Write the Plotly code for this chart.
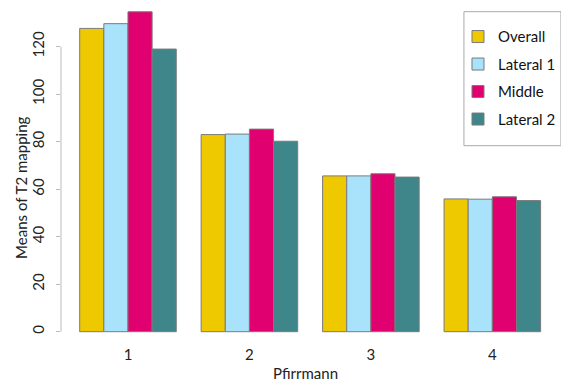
import plotly.graph_objects as go

categories = ["1", "2", "3", "4"]
series_names = ["Overall", "Lateral 1", "Middle", "Lateral 2"]
overall = [127.7, 83.0, 65.6, 55.9]
lateral1 = [129.7, 83.2, 65.6, 55.8]
middle = [134.7, 85.3, 66.5, 56.8]
lateral2 = [119.0, 80.2, 65.1, 55.2]
colors = ["#EEC900", "#A8E2FB", "#E0006F", "#3E8689"]
y_ticks = [0, 20, 40, 60, 80, 100, 120]

FONT = "Lato"
fig = go.Figure()
for i, (name, vals) in enumerate(zip(series_names, [overall, lateral1, middle, lateral2])):
    fig.add_trace(go.Bar(
        x=categories, y=vals, name=name, legendgroup=name,
        marker=dict(color=colors[i], line=dict(color="#7a7a7a", width=1)),
    ))

fig.update_layout(
    width=561, height=381,
    margin=dict(l=61, r=0, t=0, b=37),
    plot_bgcolor="white", paper_bgcolor="white",
    barmode="group", bargap=0.205, bargroupgap=0,
    font=dict(family=FONT, size=15, color="#222"),
    xaxis=dict(type="category", range=[-0.5514, 3.5242], showline=False,
               showgrid=False, zeroline=False, ticks="",
               tickfont=dict(size=15)),
    yaxis=dict(range=[-5.18, 139.66], tickvals=y_ticks, tickangle=-90,
               showline=False, showgrid=False, zeroline=False,
               ticks="outside", ticklen=4, tickcolor="#bbbbbb",
               ticklabelstandoff=6, tickfont=dict(size=15)),
    legend=dict(x=0.802, y=0.941, xanchor="left", yanchor="top",
                bgcolor="rgba(0,0,0,0)", borderwidth=0,
                tracegroupgap=5, traceorder="grouped",
                font=dict(size=15, color="#111")),
    showlegend=True,
)

fig.add_shape(type="line", xref="paper", yref="y", x0=0, x1=0,
              y0=y_ticks[0], y1=y_ticks[-1], line=dict(color="#bbbbbb", width=1))
fig.add_shape(type="rect", xref="paper", yref="paper", x0=0.814, x1=1.01,
              y0=0.5765, y1=0.966, line=dict(color="#aaaaaa", width=1),
              fillcolor="rgba(0,0,0,0)")

fig.add_annotation(text="Means of T2 mapping", xref="paper", yref="paper",
                   x=-0.08, y=0.455, textangle=-90, showarrow=False,
                   xanchor="center", yanchor="middle", font=dict(size=15, color="#222"))
fig.add_annotation(text="Pfirrmann", xref="paper", yref="paper",
                   x=0.4946, y=-0.0843, showarrow=False,
                   xanchor="center", yanchor="middle", font=dict(size=15, color="#222"))

fig.write_html("out.html")
